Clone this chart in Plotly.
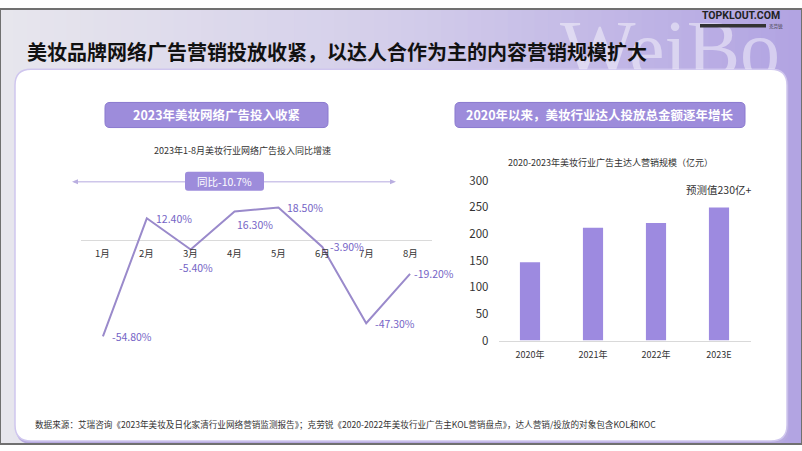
import plotly.graph_objects as go

W, H = 802, 451

# ---------------- data ----------------
months = ["1月", "2月", "3月", "4月", "5月", "6月", "7月", "8月"]
growth = [-54.8, 12.4, -5.4, 16.3, 18.5, -3.9, -47.3, -19.2]
growth_labels = ["-54.80%", "12.40%", "-5.40%", "16.30%", "18.50%", "-3.90%", "-47.30%", "-19.20%"]
# label placement: (xanchor, xshift, yshift)
label_place = [("left", 7, 0), ("left", 7, 0), ("center", 5, -18), ("left", 0, -13),
               ("left", 7, 0), ("left", 6, 0), ("left", 7, 0), ("left", 2, 0)]

years = ["2020年", "2021年", "2022年", "2023E"]
kol_scale = [147, 212, 221, 250]
bar_ticks = [0, 50, 100, 150, 200, 250, 300]

title = "美妆品牌网络广告营销投放收紧，以达人合作为主的内容营销规模扩大"
left_header = "2023年美妆网络广告投入收紧"
right_header = "2020年以来，美妆行业达人投放总金额逐年增长"
left_sub = "2023年1-8月美妆行业网络广告投入同比增速"
right_sub = "2020-2023年美妆行业广告主达人营销规模（亿元）"
yoy_text = "同比-10.7%"
forecast_text = "预测值230亿+"
footer = ("数据来源：艾瑞咨询《2023年美妆及日化家清行业网络营销监测报告》；克劳锐《2020-2022年美妆行业广告主KOL营销盘点》，"
          "达人营销/投放的对象包含KOL和KOC")

FONT = "Noto Sans CJK SC"
PURPLE = "#9D8CDB"
LINE = "#9A8ACB"
LABEL = "#7564C6"

# the photographed page is mapped as  photo_y = 10 + 0.96 * page_y
OFF, SC = 10.0, 0.96


def X(px):
    return px / W


def Y(py):
    return 1 - ((py - OFF) / SC) / H


def rrect(x0, y0, x1, y1, r):
    pts = [
        ("M", x0 + r, y0), ("L", x1 - r, y0), ("Q", x1, y0, x1, y0 + r),
        ("L", x1, y1 - r), ("Q", x1, y1, x1 - r, y1), ("L", x0 + r, y1),
        ("Q", x0, y1, x0, y1 - r), ("L", x0, y0 + r), ("Q", x0, y0, x0 + r, y0),
    ]
    s = ""
    for p in pts:
        cmd = p[0]
        coords = p[1:]
        parts = []
        for i in range(0, len(coords), 2):
            parts.append(f"{X(coords[i]):.5f},{Y(coords[i+1]):.5f}")
        s += cmd + " " + " ".join(parts) + " "
    return s + "Z"


def lerp_color(c1, c2, t):
    a = [int(c1[i:i + 2], 16) for i in (1, 3, 5)]
    b = [int(c2[i:i + 2], 16) for i in (1, 3, 5)]
    return "#" + "".join(f"{int(round(a[k] + (b[k] - a[k]) * t)):02x}" for k in range(3))


fig = go.Figure()

# ---------- background decorative "WeiBo" text (clipped at panel top) ----------
fig.add_trace(go.Scatter(
    x=[670], y=[-31], mode="text", text=["WeiBo"], textposition="top center",
    textfont=dict(family="Liberation Serif, DejaVu Serif", size=80, color="rgba(255,255,255,0.45)"),
    xaxis="x3", yaxis="y3", hoverinfo="skip", showlegend=False, cliponaxis=True,
))

# ---------- line chart ----------
fig.add_trace(go.Scatter(
    x=months, y=growth, mode="lines",
    line=dict(color=LINE, width=2), xaxis="x", yaxis="y",
    hoverinfo="skip", showlegend=False, cliponaxis=False,
))

# ---------- bar chart ----------
fig.add_trace(go.Bar(
    x=years, y=kol_scale, marker=dict(color="#9D8AE0", line=dict(width=0)),
    xaxis="x2", yaxis="y2", hoverinfo="skip", showlegend=False,
))

shapes = []
# gradient background
N = 60
for i in range(N):
    t = i / (N - 1)
    if t < 0.5:
        col = lerp_color("#E7E6ED", "#D3CDEA", t / 0.5)
    else:
        col = lerp_color("#D3CDEA", "#B2A4E2", (t - 0.5) / 0.5)
    shapes.append(dict(type="rect", xref="paper", yref="paper",
                       x0=i / N, x1=(i + 1) / N + 0.002, y0=0, y1=1,
                       fillcolor=col, line=dict(width=0), layer="below"))
# panel shadow and panel
shapes.append(dict(type="path", xref="paper", yref="paper", path=rrect(16, 72, 789, 443, 16),
                   fillcolor="#B7AAE0", line=dict(width=0), layer="below"))
shapes.append(dict(type="path", xref="paper", yref="paper", path=rrect(15, 70, 787, 440, 16),
                   fillcolor="white", line=dict(color="#CFC6EE", width=1.5), layer="below"))
# header boxes
shapes.append(dict(type="path", xref="paper", yref="paper", path=rrect(105, 103, 328, 128, 5),
                   fillcolor=PURPLE, line=dict(color="#8A79CF", width=1), layer="below"))
shapes.append(dict(type="path", xref="paper", yref="paper", path=rrect(455, 103, 745, 128, 5),
                   fillcolor=PURPLE, line=dict(color="#8A79CF", width=1), layer="below"))
# arrow line with heads
shapes.append(dict(type="line", xref="paper", yref="paper", x0=X(74), x1=X(392), y0=Y(182), y1=Y(182),
                   line=dict(color="#CEC6EA", width=1.5), layer="below"))
shapes.append(dict(type="path", xref="paper", yref="paper",
                   path=f"M {X(72):.5f},{Y(182):.5f} L {X(78):.5f},{Y(179.5):.5f} L {X(78):.5f},{Y(184.5):.5f} Z",
                   fillcolor="#B9AEE0", line=dict(width=0), layer="below"))
shapes.append(dict(type="path", xref="paper", yref="paper",
                   path=f"M {X(396):.5f},{Y(182):.5f} L {X(390):.5f},{Y(179.5):.5f} L {X(390):.5f},{Y(184.5):.5f} Z",
                   fillcolor="#B9AEE0", line=dict(width=0), layer="below"))
shapes.append(dict(type="path", xref="paper", yref="paper", path=rrect(185, 172, 264, 191, 3),
                   fillcolor=PURPLE, line=dict(width=0), layer="below"))
# logo bar
shapes.append(dict(type="rect", xref="paper", yref="paper", x0=X(700), x1=X(766), y0=Y(28.5), y1=Y(25),
                   fillcolor="#333333", line=dict(width=0), layer="above"))
# outer frame
shapes.append(dict(type="rect", xref="paper", yref="paper", x0=0, x1=1, y0=0, y1=1,
                   fillcolor="rgba(0,0,0,0)", line=dict(color="#707070", width=2), layer="above"))

ann = []


def text(px, py, s, size, color="#222", bold=False, xanchor="center", family=FONT):
    ann.append(dict(xref="paper", yref="paper", x=X(px), y=Y(py), text=f"<b>{s}</b>" if bold else s,
                    showarrow=False, xanchor=xanchor, yanchor="middle",
                    font=dict(family=family, size=size, color=color)))


text(25, 52, title, 20, "#111111", bold=True, xanchor="left")
text(216.5, 115.5, left_header, 12.5, "white", bold=True)
text(600, 115.5, right_header, 12.5, "white", bold=True)
text(242, 151, left_sub, 9, "#333333")
text(610, 163, right_sub, 9, "#333333")
text(224.5, 181.5, yoy_text, 10.5, "white")
text(718, 190, forecast_text, 10.5, "#333333")
text(33, 423, footer, 8.6, "#333333", xanchor="left")
text(741, 16, "TOPKLOUT.COM", 10.5, "#222222", bold=True, family="Roboto, Arial")
text(776, 27.5, "克劳锐", 4.5, "#333333")

for m in months:
    ann.append(dict(xref="x", yref="y", x=m, y=0, yshift=-13, text=m, showarrow=False,
                    font=dict(family=FONT, size=9.5, color="#333333")))

for m, v, lab, (xa, xs, ys) in zip(months, growth, growth_labels, label_place):
    ann.append(dict(xref="x", yref="y", x=m, y=v, xshift=xs, yshift=ys, text=lab, showarrow=False,
                    xanchor=xa, yanchor="middle",
                    font=dict(family=FONT, size=10.5, color=LABEL)))

# ---------- layout ----------
fig.update_layout(
    width=W, height=H, margin=dict(l=0, r=0, t=0, b=0),
    paper_bgcolor="white", plot_bgcolor="rgba(0,0,0,0)",
    shapes=shapes, annotations=ann, bargap=0.68,
    font=dict(family=FONT),
    xaxis=dict(domain=[X(81), X(432)], range=[-0.5, 7.5], type="category",
               showticklabels=False, showgrid=False, zeroline=False, showline=False, fixedrange=True),
    yaxis=dict(domain=[Y(345), Y(196.25)], range=[-60, 25], showticklabels=False, showgrid=False,
               zeroline=True, zerolinecolor="#DADADA", zerolinewidth=1, showline=False, fixedrange=True),
    xaxis2=dict(domain=[X(498.5), X(750.5)], range=[-0.5, 3.5], type="category", anchor="y2",
                showgrid=False, zeroline=False, showline=True, linecolor="#D9D9D9", linewidth=1,
                ticks="", tickfont=dict(family=FONT, size=9, color="#333333"), ticklabelstandoff=6,
                fixedrange=True),
    yaxis2=dict(domain=[Y(340), Y(181)], range=[0, 300], anchor="x2", tickvals=bar_ticks,
                showgrid=False, zeroline=False, showline=False, ticks="",
                tickfont=dict(family=FONT, size=11.5, color="#333333"), ticklabelstandoff=9,
                fixedrange=True),
    xaxis3=dict(domain=[0, 1], range=[0, W], visible=False, fixedrange=True),
    yaxis3=dict(domain=[Y(70), 1], range=[0, 70], visible=False, anchor="x3", fixedrange=True),
)

fig.write_html(
    "out.html",
    config={"displayModeBar": False},
    post_script="document.body.style.margin='0';document.body.style.overflow='hidden';"
                "document.documentElement.style.overflow='hidden';",
)
